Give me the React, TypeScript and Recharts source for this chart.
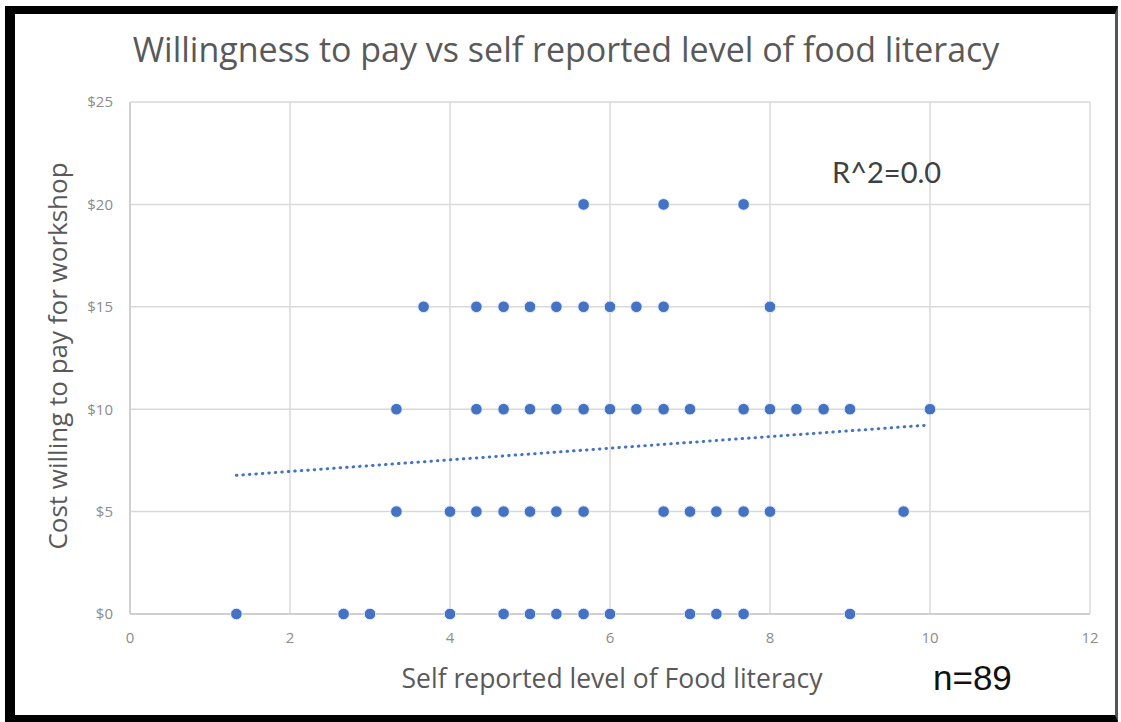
import { ScatterChart, Scatter, XAxis, YAxis, CartesianGrid } from 'recharts';

// self reported literacy (x) of each respondent, grouped by the $ amount they picked
const literacyAt0 = [1.33, 2.67, 3, 4, 4.67, 5, 5.33, 5.67, 6, 7, 7.33, 7.67, 9];
const literacyAt5 = [3.33, 4, 4.33, 4.67, 5, 5.33, 5.67, 6.67, 7, 7.33, 7.67, 8, 9.67];
const literacyAt10 = [3.33, 4.33, 4.67, 5, 5.33, 5.67, 6, 6.33, 6.67, 7, 7.67, 8, 8.33, 8.67, 9, 10];
const literacyAt15 = [3.67, 4.33, 4.67, 5, 5.33, 5.67, 6, 6.33, 6.67, 8];
const literacyAt20 = [5.67, 6.67, 7.67];

const costLevels = [0, 5, 10, 15, 20];
const literacyGroups = [literacyAt0, literacyAt5, literacyAt10, literacyAt15, literacyAt20];

// linear trendline end points
const trendX = [1.33, 10];
const trendY = [6.77, 9.23];

const xTicks = [0, 2, 4, 6, 8, 10, 12];
const yTicks = [0, 5, 10, 15, 20, 25];

const points = literacyGroups.flatMap((xs, i) =>
  xs.map((x) => ({ x, y: costLevels[i] })),
);
const trend = trendX.map((x, i) => ({ x, y: trendY[i] }));

const BLUE = '#4472C4';
const FONT = '"Open Sans", Lato, sans-serif';

const tickStyle = { fill: '#8c8c8c', fontSize: 15, fontFamily: FONT };

const Dot = (props: any) => (
  <circle cx={props.cx} cy={props.cy} r={5.8} fill={BLUE} stroke="#e8eef8" strokeWidth={1} />
);

export default function App() {
  return (
    <div
      style={{
        position: 'absolute',
        left: 0,
        top: 0,
        width: 1121,
        height: 722,
        background: '#fff',
        fontFamily: FONT,
      }}
    >
      <div
        style={{
          position: 'absolute',
          left: 5,
          top: 6,
          width: 1100,
          height: 701,
          borderLeft: '10px solid #000',
          borderTop: '8px solid #000',
          borderBottom: '7px solid #000',
          borderRight: '3px solid #555',
        }}
      />
      <div
        style={{
          position: 'absolute',
          left: 0,
          top: 32,
          width: 1132,
          textAlign: 'center',
          fontSize: 34,
          lineHeight: '34px',
          color: '#595959',
          whiteSpace: 'nowrap',
        }}
      >
        Willingness to pay vs self reported level of food literacy
      </div>

      <div style={{ position: 'absolute', left: 0, top: 0 }}>
        <ScatterChart
          width={1121}
          height={722}
          margin={{ top: 102, right: 31, bottom: 78, left: 70 }}
        >
          <CartesianGrid stroke="#d9d9d9" strokeWidth={1.5} />
          <XAxis
            type="number"
            dataKey="x"
            domain={[0, 12]}
            ticks={xTicks}
            tick={tickStyle}
            tickLine={false}
            tickMargin={12}
            axisLine={{ stroke: '#d0d0d0', strokeWidth: 2 }}
            height={30}
          />
          <YAxis
            type="number"
            dataKey="y"
            domain={[0, 25]}
            ticks={yTicks}
            tick={tickStyle}
            tickLine={false}
            tickMargin={11}
            tickFormatter={(v: number) => `$${v}`}
            axisLine={{ stroke: '#d0d0d0', strokeWidth: 2 }}
            width={60}
          />
          <Scatter
            data={trend}
            line={{ stroke: BLUE, strokeWidth: 3, strokeDasharray: '0.5 6', strokeLinecap: 'round' }}
            shape={() => <g />}
            isAnimationActive={false}
          />
          <Scatter data={points} shape={Dot} isAnimationActive={false} />
        </ScatterChart>
      </div>

      <div
        style={{
          position: 'absolute',
          left: 57,
          top: 356,
          width: 0,
          height: 0,
        }}
      >
        <div
          style={{
            position: 'absolute',
            left: -250,
            top: -13,
            width: 500,
            textAlign: 'center',
            fontSize: 26,
            lineHeight: '26px',
            color: '#595959',
            transform: 'rotate(-90deg)',
            transformOrigin: '250px 13px',
            whiteSpace: 'nowrap',
          }}
        >
          Cost willing to pay for workshop
        </div>
      </div>

      <div
        style={{
          position: 'absolute',
          left: 362,
          top: 665,
          width: 500,
          textAlign: 'center',
          fontSize: 26.5,
          lineHeight: '27px',
          color: '#595959',
          whiteSpace: 'nowrap',
        }}
      >
        Self reported level of Food literacy
      </div>

      <div
        style={{
          position: 'absolute',
          left: 832,
          top: 157,
          fontSize: 29,
          lineHeight: '30px',
          color: '#404040',
          fontFamily: 'Lato, sans-serif',
        }}
      >
        R^2=0.0
      </div>

      <div
        style={{
          position: 'absolute',
          left: 933,
          top: 660,
          fontSize: 35,
          lineHeight: '36px',
          color: '#111',
          fontFamily: '"Liberation Sans", Arial, sans-serif',
        }}
      >
        n=89
      </div>
    </div>
  );
}
